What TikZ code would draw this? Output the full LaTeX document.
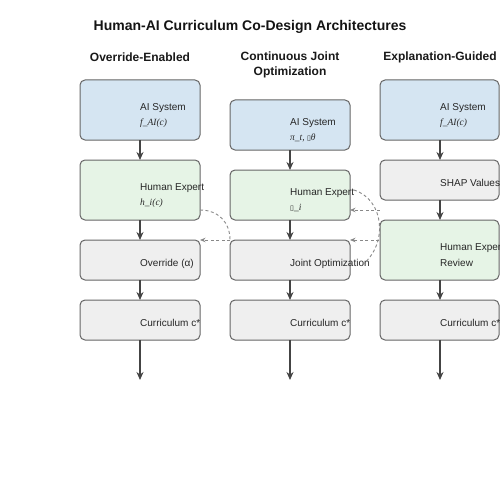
\documentclass[tikz,border=0pt]{standalone}
\usepackage{fontspec}
\setmainfont{Liberation Sans}
\newfontfamily\serifit{Liberation Serif}[ItalicFont={Liberation Serif Italic}]
\newfontfamily\symfont{DejaVu Sans}
\usetikzlibrary{arrows.meta,calc}
\definecolor{aiblue}{HTML}{D5E5F2}
\definecolor{hugreen}{HTML}{E6F4E6}
\definecolor{procgray}{HTML}{EFEFEF}
\definecolor{edgegray}{HTML}{666666}
\definecolor{arrgray}{HTML}{444444}
\definecolor{dashgray}{HTML}{888888}
\tikzset{
  box/.style={draw=edgegray, line width=1pt, rounded corners=5pt, minimum width=120pt, inner sep=0pt, outer sep=0pt},
  aibox/.style={box, fill=aiblue},
  hubox/.style={box, fill=hugreen},
  prbox/.style={box, fill=procgray},
  lbl/.style={anchor=west, inner sep=0pt, font=\fontsize{10}{12}\selectfont, text=black!85},
  mth/.style={anchor=west, inner sep=0pt, font=\serifit\itshape\fontsize{9.5}{11}\selectfont, text=black!85},
  hdr/.style={align=center, font=\bfseries\fontsize{12}{15}\selectfont, text=black!90},
  arr/.style={draw=arrgray, line width=1.3pt, -{Stealth[length=8pt,width=7pt]}},
  dsh/.style={draw=dashgray, line width=0.9pt, dash pattern=on 3pt off 2.5pt},
  dsharr/.style={dsh, -{Stealth[length=5.5pt,width=4.5pt]}}
}
\begin{document}
\begin{tikzpicture}[x=1pt,y=-1pt]
\useasboundingbox (0,0) rectangle (500,500);
\clip (0,0) rectangle (500,500);
\fill[white] (0,0) rectangle (500,500);
% title
\node[font=\bfseries\fontsize{14}{16}\selectfont, text=black!92] (title) at (250,27) {Human-AI Curriculum Co-Design Architectures};
% headers
\node[hdr] (h1) at (140,57) {Override-Enabled};
\node[hdr] (h2) at (290,64.5) {Continuous Joint\\Optimization};
\node[hdr] (h3) at (440,57) {Explanation-Guided};

% column 1
\node[aibox, minimum height=60pt] (ai1) at (140,110) {};
\node[hubox, minimum height=60pt] (he1) at (140,190) {};
\node[prbox, minimum height=40pt] (ov1) at (140,260) {};
\node[prbox, minimum height=40pt] (cu1) at (140,320) {};
\coordinate (e1) at (140,380);
\node[lbl] (ai1t) at (140,108) {AI System};
\node[mth] (ai1m) at (140,123) {f\_AI(c)};
\node[lbl] (he1t) at (140,188) {Human Expert};
\node[mth] (he1m) at (140,203) {h\_i(c)};
\node[lbl] (ov1t) at (140,264) {Override (α)};
\node[lbl] (cu1t) at (140,323) {Curriculum c*};
\draw[arr] (ai1) -- (he1);
\draw[arr] (he1) -- (ov1);
\draw[arr] (ov1) -- (cu1);
\draw[arr] (cu1) -- (e1);

% column 2
\node[aibox, minimum height=50pt] (ai2) at (290,125) {};
\node[hubox, minimum height=50pt] (he2) at (290,195) {};
\node[prbox, minimum height=40pt] (jo2) at (290,260) {};
\node[prbox, minimum height=40pt] (cu2) at (290,320) {};
\coordinate (e2) at (290,380);
\node[lbl] (ai2t) at (290,123) {AI System};
\node[mth] (ai2m) at (290,138) {π\_t, {\upshape\symfont\fontsize{7}{8}\selectfont ▯}θ};
\node[lbl] (he2t) at (290,193) {Human Expert};
\node[mth] (he2m) at (290,208) {{\upshape\symfont\fontsize{7}{8}\selectfont ▯}\_i};
\node[lbl] (jo2t) at (290,264) {Joint Optimization};
\node[lbl] (cu2t) at (290,323) {Curriculum c*};
\draw[arr] (ai2) -- (he2);
\draw[arr] (he2) -- (jo2);
\draw[arr] (jo2) -- (cu2);
\draw[arr] (cu2) -- (e2);

% column 3
\node[aibox, minimum height=60pt, minimum width=119pt] (ai3) at (439.5,110) {};
\node[prbox, minimum height=40pt, minimum width=119pt] (sh3) at (439.5,180) {};
\node[hubox, minimum height=60pt, minimum width=119pt] (hr3) at (439.5,250) {};
\node[prbox, minimum height=40pt, minimum width=119pt] (cu3) at (439.5,320) {};
\coordinate (e3) at (440,380);
\node[lbl] (ai3t) at (440,108) {AI System};
\node[mth] (ai3m) at (440,123) {f\_AI(c)};
\node[lbl] (sh3t) at (440,183) {SHAP Values};
\node[lbl] (hr3t) at (440,248) {Human Expert};
\node[lbl] (hr3r) at (440,263) {Review};
\node[lbl] (cu3t) at (440,323) {Curriculum c*};
\draw[arr] (440,140) -- (440,160);
\draw[arr] (440,200) -- (440,220);
\draw[arr] (440,280) -- (440,300);
\draw[arr] (cu3.south -| e3) -- (e3);

% dashed feedback, columns 1-2
\coordinate (c1s) at ($(he1.east)+(0,20)$);
\draw[dsh] (c1s) .. controls (218,210) and (230,222) .. (jo2.north west);
\draw[dsharr] (jo2.north west) -- (ov1.north east);

% dashed feedback, columns 2-3
\coordinate (c2s) at (354,190);
\coordinate (c2e) at (362,265);
\coordinate (c2a) at (379.5,210);
\coordinate (c2b) at (379,240);
\draw[dsh] (c2s) .. controls (385,200) and (388,245) .. (c2e);
\draw[dsharr] (c2a) -- ($(he2.east)+(0,15)$);
\draw[dsharr] (c2b) -- (jo2.north east);
\end{tikzpicture}
\end{document}
